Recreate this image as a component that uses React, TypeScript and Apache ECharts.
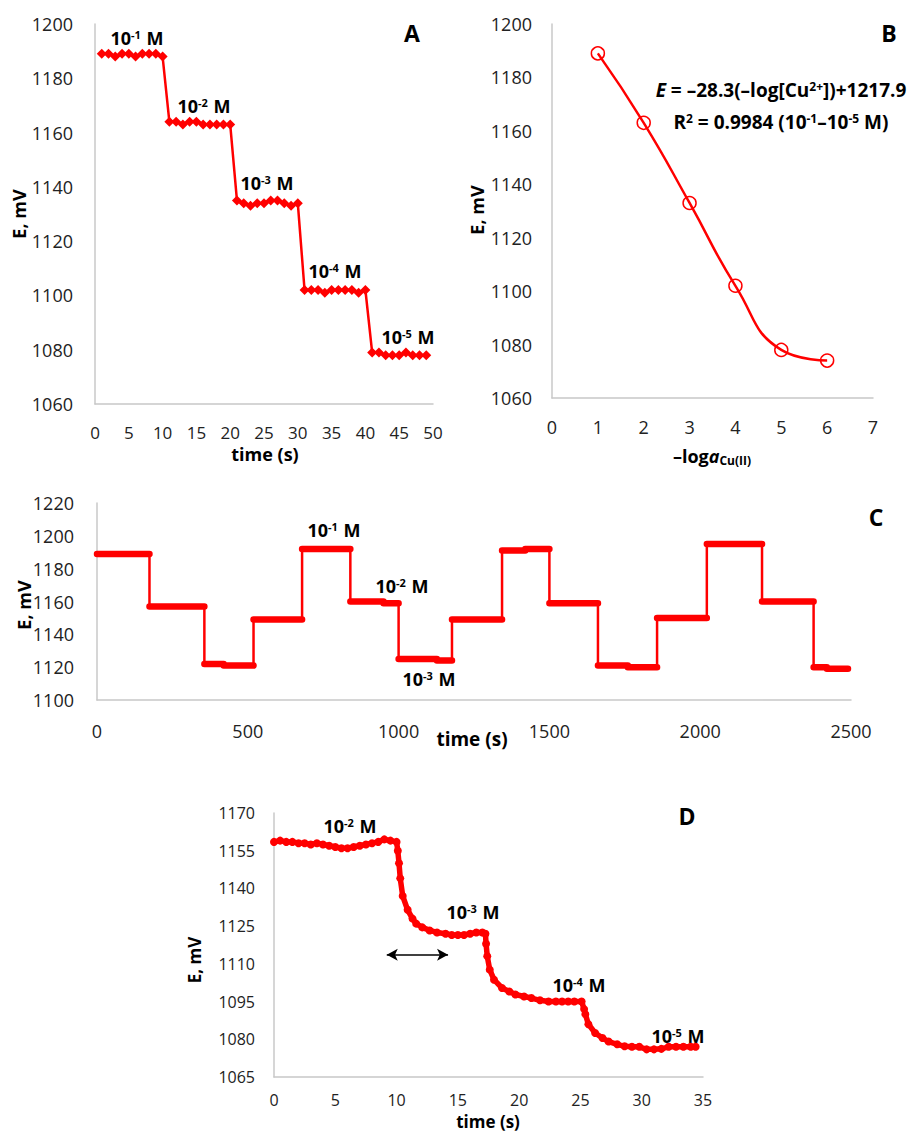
import React, { useEffect, useRef } from "react";
import * as echarts from "echarts";

// ---------- Panel A: potential vs time, stepwise dilution ----------
const aTime = [
  1, 2, 3, 4, 5, 6, 7, 8, 9, 10,
  11, 12, 13, 14, 15, 16, 17, 18, 19, 20,
  21, 22, 23, 24, 25, 26, 27, 28, 29, 30,
  31, 32, 33, 34, 35, 36, 37, 38, 39, 40,
  41, 42, 43, 44, 45, 46, 47, 48, 49,
];
const aPotential = [
  1189, 1189, 1188, 1189, 1189, 1188, 1189, 1189, 1189, 1188,
  1164, 1164, 1163, 1164, 1164, 1163, 1163, 1163, 1163, 1163,
  1135, 1134, 1133, 1134, 1134, 1135, 1135, 1134, 1133, 1134,
  1102, 1102, 1102, 1101, 1102, 1102, 1102, 1102, 1101, 1102,
  1079, 1079, 1078, 1078, 1078, 1079, 1078, 1078, 1078,
];
const aLabelExp = ["-1", "-2", "-3", "-4", "-5"];

// ---------- Panel B: calibration ----------
const bLogActivity = [1, 2, 3, 4, 5, 6];
const bPotential = [1189, 1163, 1133, 1102, 1078, 1074];

// ---------- Panel C: reversibility (plateaus) ----------
const cStart = [0, 174, 356, 420, 519, 680, 840, 950, 1000, 1127, 1177, 1343, 1420, 1500, 1661, 1760, 1857, 2022, 2205, 2376, 2420];
const cEnd = [174, 356, 420, 519, 680, 840, 950, 1000, 1127, 1177, 1343, 1420, 1500, 1661, 1760, 1857, 2022, 2205, 2376, 2420, 2490];
const cPotential = [1189, 1157, 1122, 1121, 1149, 1192, 1160, 1159, 1125, 1124, 1149, 1191, 1192, 1159, 1121, 1120, 1150, 1195, 1160, 1120, 1119];

// ---------- Panel D: response time ----------
const dTime = [
  0, 0.5, 1, 1.5, 2, 2.5, 3, 3.5, 4, 4.5, 5, 5.5, 6, 6.5, 7, 7.5, 8, 8.5, 9, 9.5, 10,
  10.1, 10.2, 10.3, 10.5, 10.9, 11.3, 11.6, 12.1, 12.7, 13.3, 14, 14.5, 15, 15.5, 16, 16.5, 17, 17.25,
  17.3, 17.4, 17.6, 17.95, 18.6, 19.2, 19.7, 20.4, 21, 21.7, 22.4, 23, 23.5, 24, 24.5, 25.1,
  25.3, 25.4, 25.65, 26.2, 26.8, 27.3, 28, 28.6, 29.2, 29.8, 30.4, 31, 31.6, 32.2, 32.8, 33.4, 34, 34.4,
];
const dPotential = [
  1158.5, 1159, 1158.5, 1158.5, 1158, 1158, 1157.5, 1158, 1157.5, 1157, 1156.5, 1156, 1156, 1156.5, 1157, 1157.5, 1158, 1158.5, 1159.5, 1159, 1158.5,
  1155, 1150, 1144, 1137, 1131.5, 1128, 1126, 1124.5, 1123.3, 1122.5, 1122, 1121.5, 1121.5, 1121.5, 1122, 1122.5, 1122.5, 1122,
  1118, 1113, 1107.7, 1103.7, 1100.4, 1099, 1097.8, 1097, 1096.4, 1095.5, 1095, 1095, 1095, 1095, 1095, 1095,
  1092, 1090, 1086, 1082.5, 1080.5, 1079.1, 1078, 1077.2, 1077, 1077, 1076, 1076, 1076.2, 1077, 1077, 1077, 1077, 1077,
];
const dArrowFrom = 9.2;
const dArrowTo = 14.2;
const dArrowLevel = 1113.6;
const dLabelExp = ["-2", "-3", "-4", "-5"];

const RED = "#ff0000";
const FONT = "'Open Sans', 'Noto Sans', sans-serif";
const AXIS_COLOR = "#c8c8c8";
const LABEL_COLOR = "#222";

function valueAxis(min: number, max: number, interval: number, fontSize: number, margin: number, gridIndex: number) {
  return {
    type: "value",
    gridIndex,
    min,
    max,
    interval,
    axisLine: { show: true, onZero: false, lineStyle: { color: AXIS_COLOR, width: 1.5 } },
    axisTick: { show: false },
    splitLine: { show: false },
    axisLabel: {
      color: LABEL_COLOR,
      fontSize,
      fontFamily: FONT,
      margin,
      formatter: (v: number) => String(v),
    },
  };
}

const richBase = {
  b: { fontSize: 18, fontWeight: "bold", fontFamily: FONT, color: "#000" },
  s: { fontSize: 11, fontWeight: "bold", fontFamily: FONT, color: "#000", verticalAlign: "top", padding: [0, 1, 6, 0] },
};

function concLabel(exp: string, x: number, y: number) {
  return {
    type: "text",
    x,
    y,
    style: {
      text: `{b|10}{s|${exp}}{b| M}`,
      rich: richBase,
      align: "center",
      verticalAlign: "middle",
    },
  };
}

function boldText(text: string, x: number, y: number, fontSize: number, rotate = false) {
  return {
    type: "text",
    x,
    y,
    rotation: rotate ? Math.PI / 2 : 0,
    style: {
      text,
      fontSize,
      fontWeight: "bold",
      fontFamily: FONT,
      fill: "#000",
      align: "center",
      verticalAlign: "middle",
    },
  };
}

export default function App() {
  const ref = useRef<HTMLDivElement>(null);

  useEffect(() => {
    document.body.style.margin = "0";
    if (!ref.current) return;
    const chart = echarts.init(ref.current, undefined, { renderer: "svg" });

    const cThin: (number[])[] = [];
    const cThick: (number[] | null)[] = [];
    cStart.forEach((s, i) => {
      cThin.push([s, cPotential[i]], [cEnd[i], cPotential[i]]);
      if (i > 0) cThick.push(null as any);
      cThick.push([s, cPotential[i]], [cEnd[i], cPotential[i]]);
    });

    const aPos = [
      [137, 38],
      [204, 106],
      [267, 183],
      [335, 271],
      [408, 337],
    ];
    const dPos = [
      [350, 826],
      [473, 912],
      [579, 985],
      [678, 1036],
    ];

    const option: any = {
      animation: false,
      backgroundColor: "#fff",
      grid: [
        { left: 95, top: 24, width: 338, height: 380 },
        { left: 552, top: 24, width: 321, height: 374 },
        { left: 97, top: 503, width: 754, height: 197 },
        { left: 274, top: 813, width: 429, height: 264 },
      ],
      xAxis: [
        valueAxis(0, 50, 5, 17, 20, 0),
        valueAxis(0, 7, 1, 18, 20, 1),
        valueAxis(0, 2500, 500, 18, 22, 2),
        valueAxis(0, 35, 5, 16, 15, 3),
      ],
      yAxis: [
        valueAxis(1060, 1200, 20, 18, 22, 0),
        valueAxis(1060, 1200, 20, 18, 20, 1),
        valueAxis(1100, 1220, 20, 18, 23, 2),
        valueAxis(1065, 1170, 15, 16, 19, 3),
      ],
      series: [
        {
          type: "line",
          xAxisIndex: 0,
          yAxisIndex: 0,
          data: aTime.map((t, i) => [t, aPotential[i]]),
          symbol: "diamond",
          symbolSize: 10,
          itemStyle: { color: RED },
          lineStyle: { color: RED, width: 2.5 },
        },
        {
          type: "line",
          xAxisIndex: 1,
          yAxisIndex: 1,
          smooth: 0.5,
          data: bLogActivity.map((x, i) => [x, bPotential[i]]),
          symbol: "circle",
          symbolSize: 13,
          showAllSymbol: true,
          itemStyle: { color: "rgba(0,0,0,0)", borderColor: RED, borderWidth: 1.5 },
          lineStyle: { color: RED, width: 2.5 },
        },
        {
          type: "line",
          xAxisIndex: 2,
          yAxisIndex: 2,
          data: cThin,
          symbol: "none",
          lineStyle: { color: RED, width: 2.5 },
        },
        {
          type: "line",
          xAxisIndex: 2,
          yAxisIndex: 2,
          data: cThick,
          connectNulls: false,
          symbol: "none",
          lineStyle: { color: RED, width: 6.5, cap: "round" },
        },
        {
          type: "line",
          xAxisIndex: 3,
          yAxisIndex: 3,
          data: dTime.map((t, i) => [t, dPotential[i]]),
          symbol: "circle",
          symbolSize: 8,
          showAllSymbol: true,
          itemStyle: { color: RED },
          lineStyle: { color: RED, width: 5.5 },
          markLine: {
            silent: true,
            symbol: ["arrow", "arrow"],
            symbolSize: [9, 11],
            label: { show: false },
            lineStyle: { color: "#000", width: 1.5, type: "solid" },
            data: [[{ coord: [dArrowFrom, dArrowLevel] }, { coord: [dArrowTo, dArrowLevel] }]],
          },
        },
      ],
      graphic: [
        // axis titles
        boldText("E, mV", 19, 214, 18, true),
        boldText("time (s)", 265, 454, 18),
        boldText("E, mV", 477, 210, 18, true),
        boldText("E, mV", 24, 605, 18, true),
        boldText("time (s)", 472, 739, 19),
        boldText("E, mV", 194, 960, 17, true),
        boldText("time (s)", 488, 1121, 17),
        {
          type: "text",
          x: 712,
          y: 456,
          style: {
            text: "{b|–log}{i|a}{sub|Cu(II)}",
            rich: {
              b: { fontSize: 18, fontWeight: "bold", fontFamily: FONT, color: "#000" },
              i: { fontSize: 18, fontWeight: "bold", fontStyle: "italic", fontFamily: FONT, color: "#000" },
              sub: { fontSize: 12, fontWeight: "bold", fontFamily: FONT, color: "#000", verticalAlign: "bottom", padding: [8, 0, 0, 0] },
            },
            align: "center",
            verticalAlign: "middle",
          },
        },
        // panel letters
        boldText("A", 412, 33, 23),
        boldText("B", 889, 33, 23),
        boldText("C", 876, 517, 23),
        boldText("D", 687, 816, 23),
        // concentration labels
        ...aLabelExp.map((e, i) => concLabel(e, aPos[i][0], aPos[i][1])),
        concLabel("-1", 334, 530),
        concLabel("-2", 402, 586),
        concLabel("-3", 429, 679),
        ...dLabelExp.map((e, i) => concLabel(e, dPos[i][0], dPos[i][1])),
        // equation in B
        {
          type: "text",
          x: 781,
          y: 90,
          style: {
            text: "{i|E}{b| = –28.3(–log[Cu}{s|2+}{b|])+1217.9}",
            rich: {
              b: { fontSize: 19, fontWeight: "bold", fontFamily: FONT, color: "#000" },
              i: { fontSize: 19, fontWeight: "bold", fontStyle: "italic", fontFamily: FONT, color: "#000" },
              s: { fontSize: 12, fontWeight: "bold", fontFamily: FONT, color: "#000", verticalAlign: "top", padding: [0, 0, 6, 0] },
            },
            align: "center",
            verticalAlign: "middle",
          },
        },
        {
          type: "text",
          x: 781,
          y: 122,
          style: {
            text: "{b|R}{s|2}{b| = 0.9984 (10}{s|-1}{b|–10}{s|-5}{b| M)}",
            rich: {
              b: { fontSize: 19, fontWeight: "bold", fontFamily: FONT, color: "#000" },
              s: { fontSize: 12, fontWeight: "bold", fontFamily: FONT, color: "#000", verticalAlign: "top", padding: [0, 0, 6, 0] },
            },
            align: "center",
            verticalAlign: "middle",
          },
        },
      ],
    };

    chart.setOption(option);
    return () => chart.dispose();
  }, []);

  return <div ref={ref} style={{ width: 922, height: 1131 }} />;
}
